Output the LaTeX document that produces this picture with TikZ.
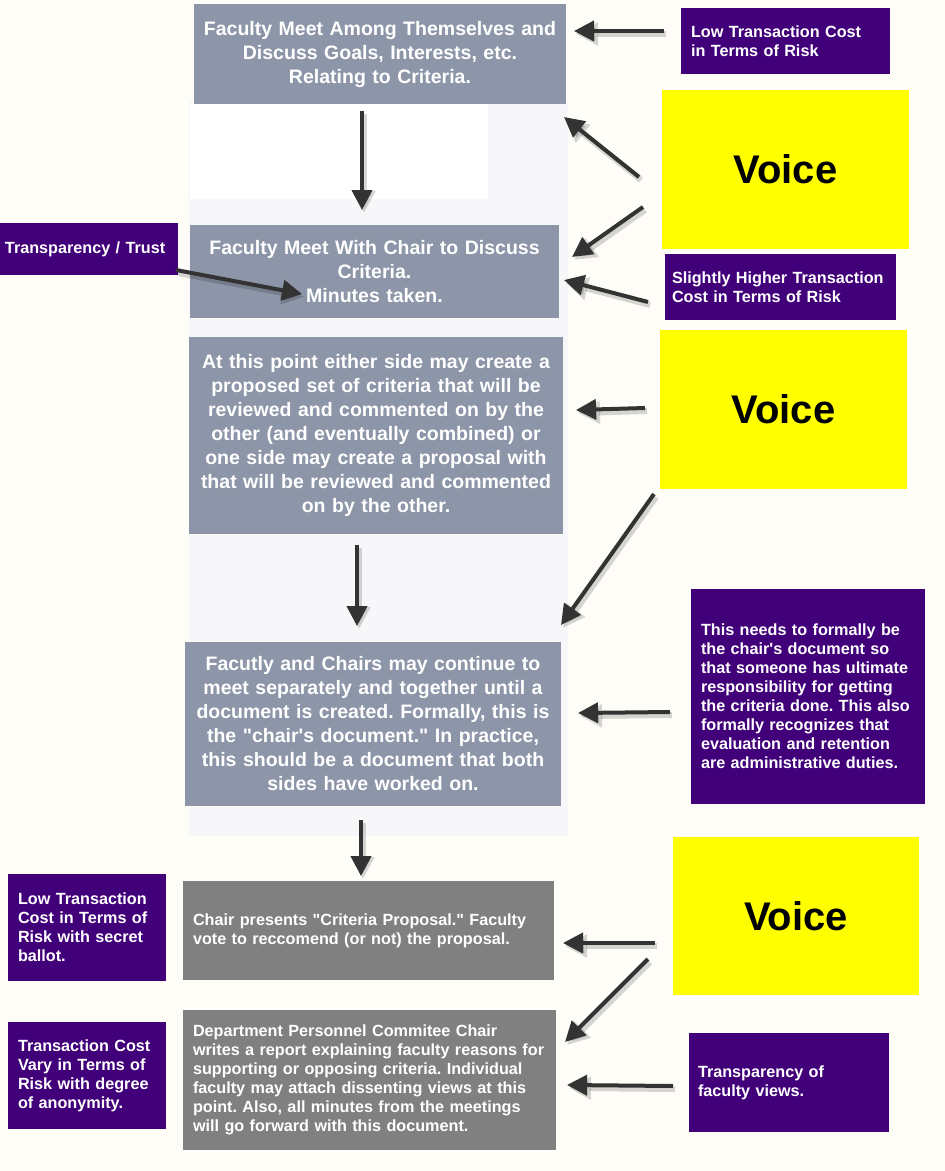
\documentclass[tikz,border=0pt]{standalone}
\usepackage{fontspec}
\setmainfont{Liberation Sans}[Ligatures=TeXOff]
\frenchspacing
\usetikzlibrary{arrows.meta}
\definecolor{bgcol}{HTML}{FEFDF8}
\definecolor{panelcol}{HTML}{F7F6F8}
\definecolor{slatecol}{HTML}{8C96A8}
\definecolor{boxgreycol}{HTML}{808080}
\definecolor{purpcol}{HTML}{41007A}
\definecolor{yelcol}{HTML}{FFFF00}
\definecolor{arrcol}{HTML}{333333}
\tikzset{
 bluebox/.style={fill=slatecol, text=white, font=\frenchspacing\bfseries\fontsize{19.5}{24}\selectfont, align=center, inner xsep=2pt, inner ysep=0pt},
 greybox/.style={fill=boxgreycol, text=white, font=\frenchspacing\bfseries\fontsize{16.2}{19}\selectfont, align=left, inner xsep=10pt, inner ysep=0pt},
 purpbox/.style={fill=purpcol, text=white, font=\frenchspacing\bfseries\fontsize{16.2}{19}\selectfont, align=left, inner xsep=10pt, inner ysep=0pt},
 voicebox/.style={fill=yelcol, text=black, font=\bfseries\fontsize{40}{48}\selectfont, inner sep=0pt},
 arr/.style={draw=arrcol, line width=4pt, -{Triangle[length=20pt,width=20pt]}},
 arrshadow/.style={draw=black, opacity=0.16, line width=6pt, -{Triangle[length=22pt,width=22pt]}},
}
\newcommand\conn[2]{\draw[arrshadow] ([shift={(2,3)}]#1) -- ([shift={(2,3)}]#2); \draw[arr] (#1) -- (#2);}
\begin{document}
\begin{tikzpicture}[x=1pt,y=-1pt]
\fill[bgcol] (0,0) rectangle (945,1171);
\useasboundingbox (0,0) rectangle (945,1171);
% panel behind the main column
\fill[panelcol] (189,100) rectangle (568,836);
\fill[white] (190,103) rectangle (488,199);

% main column
\node[bluebox, minimum width=372pt, minimum height=100pt, text width=368pt] (b1) at (380,54)
 {Faculty Meet Among Themselves and\\Discuss Goals, Interests, etc.\\Relating to Criteria.};
\node[bluebox, minimum width=369pt, minimum height=93pt, text width=365pt] (b2) at (374.5,271.5)
 {Faculty Meet With Chair to Discuss\\Criteria.\\Minutes taken.};
\node[bluebox, minimum width=374pt, minimum height=197pt, text width=370pt] (b3) at (376,435.5)
 {At this point either side may create a\\proposed set of criteria that will be\\reviewed and commented on by the\\other (and eventually combined) or\\one side may create a proposal with\\that will be reviewed and commented\\on by the other.};
\node[bluebox, minimum width=376pt, minimum height=164pt, text width=372pt] (b4) at (373,724)
 {Facutly and Chairs may continue to\\meet separately and together until a\\document is created. Formally, this is\\the "chair's document." In practice,\\this should be a document that both\\sides have worked on.};
\node[greybox, minimum width=371pt, minimum height=99pt, text width=351pt] (b5) at (368.5,930.5)
 {Chair presents "Criteria Proposal." Faculty\\vote to reccomend (or not) the proposal.};
\node[greybox, minimum width=371pt, minimum height=140pt, text width=353pt] (b6) at (369.5,1080)
 {Department Personnel Commitee Chair\\writes a report explaining faculty reasons for\\supporting or opposing criteria. Individual\\faculty may attach dissenting views at this\\point. Also, all minutes from the meetings\\will go forward with this document.};

% right side
\node[purpbox, minimum width=209pt, minimum height=66pt, text width=189pt] (p1) at (785.5,41)
 {Low Transaction Cost\\in Terms of Risk};
\node[voicebox, minimum width=247pt, minimum height=159pt] (v1) at (785.5,169.5) {Voice};
\node[purpbox, minimum width=231pt, minimum height=66pt, text width=217pt, inner xsep=7pt] (p2) at (780.5,287)
 {Slightly Higher Transaction\\Cost in Terms of Risk};
\node[voicebox, minimum width=247pt, minimum height=159pt] (v2) at (783.5,409.5) {Voice};
\node[purpbox, minimum width=234pt, minimum height=215pt, text width=214pt] (p3) at (808,696.5)
 {This needs to formally be\\the chair's document so\\that someone has ultimate\\responsibility for getting\\the criteria done. This also\\formally recognizes that\\evaluation and retention\\are administrative duties.};
\node[voicebox, minimum width=246pt, minimum height=158pt] (v3) at (796,916) {Voice};
\node[purpbox, minimum width=200pt, minimum height=99pt, text width=182pt, inner xsep=9pt] (p4) at (789,1082.5)
 {Transparency of\\faculty views.};

% left side
\node[purpbox, minimum width=178pt, minimum height=52pt, text width=168pt, inner xsep=5pt] (p5) at (89,249)
 {Transparency / Trust};
\node[purpbox, minimum width=158pt, minimum height=107pt, text width=138pt] (p6) at (87,927.5)
 {Low Transaction\\Cost in Terms of\\Risk with secret\\ballot.};
\node[purpbox, minimum width=158pt, minimum height=107pt, text width=138pt] (p7) at (87,1075.5)
 {Transaction Cost\\Vary in Terms of\\Risk with degree\\of anonymity.};

% connector end points
\coordinate (p1-out) at (664,31);   \coordinate (b1-in1) at (574,31);
\coordinate (v1-out1) at (639,177); \coordinate (b1-in2) at (564,117);
\coordinate (v1-out2) at (643,207); \coordinate (b2-in1) at (572,257);
\coordinate (p2-out) at (648,302);  \coordinate (b2-in2) at (564,280);
\coordinate (p5-out) at (176,270);  \coordinate (b2-in3) at (302,294);
\coordinate (b1-out) at (362,111);  \coordinate (b2-in4) at (362,210);
\coordinate (v2-out1) at (645,408); \coordinate (b3-in) at (576,410);
\coordinate (v2-out2) at (654,494); \coordinate (b4-in1) at (561,625);
\coordinate (b3-out) at (357,545);  \coordinate (b4-in2) at (357,626);
\coordinate (p3-out) at (670,712);  \coordinate (b4-in3) at (578,713);
\coordinate (b4-out) at (361,820);  \coordinate (b5-in1) at (361,876);
\coordinate (v3-out1) at (655,943); \coordinate (b5-in2) at (563,943);
\coordinate (v3-out2) at (648,959); \coordinate (b6-in1) at (565,1042);
\coordinate (p4-out) at (673,1086); \coordinate (b6-in2) at (567,1085);

\conn{p1-out}{b1-in1}
\conn{v1-out1}{b1-in2}
\conn{v1-out2}{b2-in1}
\conn{p2-out}{b2-in2}
\conn{p5-out}{b2-in3}
\conn{b1-out}{b2-in4}
\conn{v2-out1}{b3-in}
\conn{v2-out2}{b4-in1}
\conn{b3-out}{b4-in2}
\conn{p3-out}{b4-in3}
\conn{b4-out}{b5-in1}
\conn{v3-out1}{b5-in2}
\conn{v3-out2}{b6-in1}
\conn{p4-out}{b6-in2}
\end{tikzpicture}
\end{document}
